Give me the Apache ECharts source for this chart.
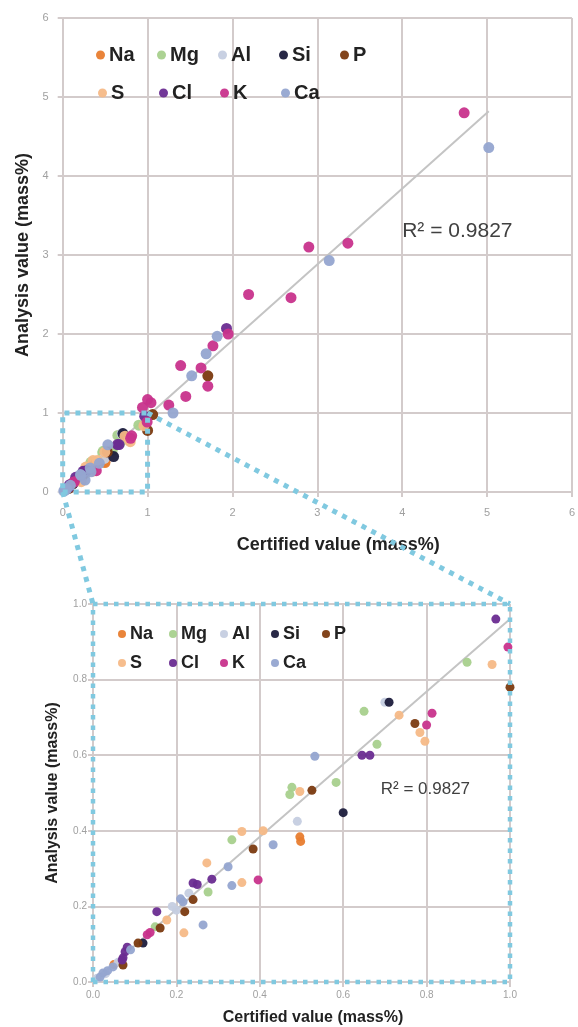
<!DOCTYPE html>
<html><head><meta charset="utf-8">
<script src="https://cdn.jsdelivr.net/npm/echarts@6/dist/echarts.min.js"></script>
<style>html,body{margin:0;padding:0;background:#fff}#c{width:578px;height:1027px}</style>
</head><body><div id="c"></div>
<script>
// ---- data (certified value, analysis value) in mass% ----
const elements = ['Na','Mg','Al','Si','P','S','Cl','K','Ca'];
const elementColors = ['#e87d2f','#a8d08d','#c5cee0','#1c1c3c','#7b3a10','#f5b987','#6a2c91','#c8338c','#95a5d0'];
const Na = [[0.496,0.384],[0.498,0.372],[0.05,0.046]];
const Mg = [[0.897,0.846],[0.65,0.716],[0.681,0.629],[0.583,0.528],[0.477,0.515],[0.472,0.496],[0.333,0.376],[0.276,0.238],[0.149,0.146]];
const Al = [[0.01,0.01],[0.03,0.022],[0.49,0.425],[0.7,0.74],[0.2,0.19],[0.19,0.2],[0.23,0.235],[0.06,0.052]];
const Si = [[0.71,0.74],[0.6,0.448],[0.12,0.103]];
const P  = [[1.0,0.78],[0.772,0.684],[0.525,0.507],[0.384,0.352],[0.24,0.218],[0.22,0.186],[0.161,0.143],[0.108,0.103],[0.072,0.045],[1.71,1.47],[1.06,0.98]];
const S  = [[0.957,0.84],[0.734,0.706],[0.784,0.66],[0.796,0.637],[0.496,0.504],[0.408,0.4],[0.357,0.398],[0.357,0.263],[0.273,0.315],[0.218,0.13],[0.177,0.164]];
const Cl = [[0.966,0.96],[0.645,0.6],[0.664,0.6],[0.285,0.272],[0.24,0.262],[0.25,0.258],[0.153,0.186],[0.077,0.08],[0.072,0.064],[0.07,0.058],[0.082,0.092],[1.93,2.07]];
const K  = [[0.995,0.886],[0.813,0.711],[0.8,0.68],[0.396,0.27],[0.137,0.131],[0.13,0.125],[4.73,4.8],[3.36,3.15],[2.9,3.1],[2.19,2.5],[2.69,2.46],[1.95,2.0],[1.77,1.85],[1.39,1.6],[1.63,1.57],[1.71,1.34],[1.45,1.21],[1.25,1.1],[1.0,1.17],[0.94,1.07],[1.04,1.13]];
const Ca = [[5.02,4.36],[3.14,2.93],[1.82,1.97],[1.69,1.75],[1.52,1.47],[1.3,1.0],[0.532,0.597],[0.432,0.363],[0.324,0.305],[0.333,0.255],[0.264,0.151],[0.216,0.212],[0.048,0.04],[0.024,0.024],[0.017,0.013],[0.035,0.03],[0.09,0.085],[0.21,0.22]];
const elementData = [Na,Mg,Al,Si,P,S,Cl,K,Ca];
const trendTop = [[0,0],[5.02,4.82]];
const trendBottom = [[0,0],[1,0.96]];
const zoomBox = [[0,0],[1,0],[1,1],[0,1],[0,0]];
const r2Text = 'R² = 0.9827';
const legendRow1 = ['Na','Mg','Al','Si','P'];
const legendRow2 = ['S','Cl','K','Ca'];

const gridColor = '#d3cbcb';
const dotColor = '#80c9e0';
const chart = echarts.init(document.getElementById('c'));

function axisCommon(min, max, interval, fmt, labelMargin, fs) {
  return {
    type:'value', min, max, interval,
    axisLine:{show:true, lineStyle:{color:gridColor, width:2}},
    axisTick:{show:true, length:5, lineStyle:{color:gridColor, width:2}},
    splitLine:{show:true, lineStyle:{color:gridColor, width:2}},
    axisLabel:{color:'#a0a0a0', fontSize:fs, fontFamily:'Liberation Sans', margin:labelMargin, formatter:fmt}
  };
}
const nameStyle = (fs, pad) => ({color:'#222', fontWeight:'bold', fontSize:fs, fontFamily:'Liberation Sans', padding:pad});

const series = [];
elements.forEach((el, i) => {
  series.push({type:'scatter', name:el, xAxisIndex:0, yAxisIndex:0, data:elementData[i], symbolSize:11,
    itemStyle:{color:elementColors[i], opacity:0.95}, z:3});
  series.push({type:'scatter', name:el, xAxisIndex:1, yAxisIndex:1, data:elementData[i], symbolSize:9,
    itemStyle:{color:elementColors[i], opacity:0.95}, z:3, clip:true});
});
series.push({type:'line', xAxisIndex:0, yAxisIndex:0, data:trendTop, showSymbol:false, lineStyle:{color:'#c4c4c4', width:2}, z:2, silent:true});
series.push({type:'line', xAxisIndex:1, yAxisIndex:1, data:trendBottom, showSymbol:false, lineStyle:{color:'#c4c4c4', width:2}, z:2, silent:true});
series.push({type:'line', xAxisIndex:0, yAxisIndex:0, data:zoomBox, showSymbol:false, clip:false, lineStyle:{color:dotColor, width:5, type:[5,6]}, z:10, silent:true});
series.push({type:'line', xAxisIndex:1, yAxisIndex:1, data:zoomBox, showSymbol:false, clip:false, lineStyle:{color:dotColor, width:4.5, type:[4.5,6]}, z:10, silent:true});

// one legend component per entry so the entries sit in fixed columns
const legends = [];
function legendRow(names, left0, top, fs, icon, colW) {
  names.forEach((n, j) => legends.push({data:[n], left:left0 + j*colW, top, padding:0, itemWidth:icon, itemHeight:icon,
    icon:'circle', selectedMode:false, itemGap:0,
    textStyle:{fontSize:fs, fontWeight:'bold', color:'#222', fontFamily:'Liberation Sans', padding:[0,0,0,-1]}}));
}
legendRow(legendRow1, 96, 45, 20, 9, 61);
legendRow(legendRow2, 98, 83, 20, 9, 61);
legendRow(legendRow1, 118, 625, 18, 8, 51);
legendRow(legendRow2, 118, 654, 18, 8, 51);

chart.setOption({
  animation:false,
  grid:[{left:62.7, right:5, top:18, bottom:535}, {left:93, right:68, top:604, bottom:45}],
  xAxis:[
    Object.assign(axisCommon(0, 6, 1, v => String(v), 15, 11), {gridIndex:0, name:'Certified value (mass%)', nameLocation:'middle', nameGap:44, nameTextStyle:nameStyle(18,[0,0,0,42])}),
    Object.assign(axisCommon(0, 1, 0.2, v => v.toFixed(1), 8, 10), {gridIndex:1, name:'Certified value (mass%)', nameLocation:'middle', nameGap:28, nameTextStyle:nameStyle(16,[0,0,0,23])})
  ],
  yAxis:[
    Object.assign(axisCommon(0, 6, 1, v => String(v), 14, 11), {gridIndex:0, name:'Analysis value (mass%)', nameLocation:'middle', nameGap:30, nameTextStyle:nameStyle(18,0)}),
    Object.assign(axisCommon(0, 1, 0.2, v => v.toFixed(1), 6, 10), {gridIndex:1, name:'Analysis value (mass%)', nameLocation:'middle', nameGap:32, nameTextStyle:nameStyle(16,0)})
  ],
  legend:legends,
  series
});

// R² labels and connecting dotted lines, positioned through the library's scales
const tl00 = chart.convertToPixel({gridIndex:0}, [0,0]);
const tl11 = chart.convertToPixel({gridIndex:0}, [1,1]);
const bl01 = chart.convertToPixel({gridIndex:1}, [0,1]);
const bl11 = chart.convertToPixel({gridIndex:1}, [1,1]);
const r2Top = chart.convertToPixel({gridIndex:0}, [4.0,3.3]);
const r2Bot = chart.convertToPixel({gridIndex:1}, [0.69,0.51]);
chart.setOption({graphic:[
  {type:'line', shape:{x1:tl00[0], y1:tl00[1], x2:bl01[0], y2:bl01[1]}, style:{stroke:dotColor, lineWidth:5, lineDash:[5,6]}, z:20, silent:true},
  {type:'line', shape:{x1:tl11[0], y1:tl11[1], x2:bl11[0], y2:bl11[1]}, style:{stroke:dotColor, lineWidth:5, lineDash:[5,6]}, z:20, silent:true},
  {type:'text', x:r2Top[0], y:r2Top[1], style:{text:r2Text, fill:'#404040', fontSize:21, fontFamily:'Liberation Sans', verticalAlign:'middle', align:'left'}, z:20},
  {type:'text', x:r2Bot[0], y:r2Bot[1], style:{text:r2Text, fill:'#404040', fontSize:17, fontFamily:'Liberation Sans', verticalAlign:'middle', align:'left'}, z:20}
]});
</script></body></html>
